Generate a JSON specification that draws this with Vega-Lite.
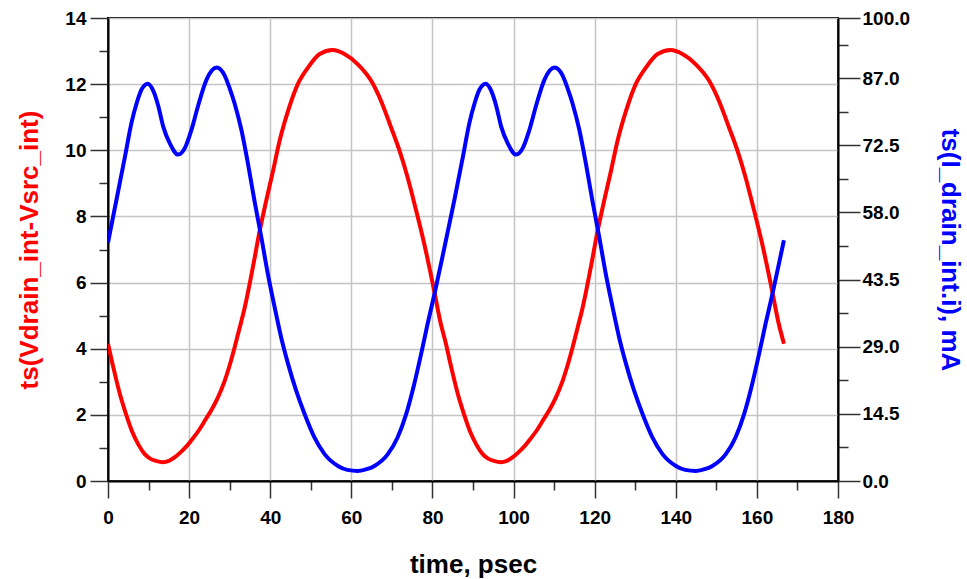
{
  "$schema": "https://vega.github.io/schema/vega-lite/v6.json",
  "width": 730,
  "height": 463,
  "autosize": {"type": "none"},
  "padding": {"left": 108, "top": 18, "right": 129, "bottom": 98},
  "background": "white",
  "config": {
    "font": "Liberation Sans",
    "view": {"stroke": "#000000", "strokeWidth": 2},
    "axis": {
      "domainColor": "#000000",
      "domainWidth": 2,
      "tickColor": "#333333",
      "tickWidth": 1.5,
      "labelFont": "Liberation Sans",
      "labelFontSize": 19,
      "labelFontWeight": "bold",
      "labelColor": "#000000",
      "labelFlush": false,
      "titleFont": "Liberation Sans",
      "titleFontSize": 26,
      "titleFontWeight": "bold",
      "gridColor": "#c4c4c4",
      "gridWidth": 1.5
    }
  },
  "datasets": {
    "vds": [
      {"t": 0, "v": 4.15}, {"t": 1, "v": 3.6}, {"t": 2, "v": 3.08}, {"t": 3, "v": 2.6}, {"t": 4.5, "v": 2.0},
      {"t": 6, "v": 1.48}, {"t": 7.5, "v": 1.1}, {"t": 9, "v": 0.82}, {"t": 10.5, "v": 0.67}, {"t": 12, "v": 0.6},
      {"t": 13.5, "v": 0.57}, {"t": 15, "v": 0.61}, {"t": 16.5, "v": 0.72}, {"t": 18, "v": 0.88}, {"t": 19.5, "v": 1.07},
      {"t": 21, "v": 1.3}, {"t": 22.5, "v": 1.55}, {"t": 24, "v": 1.85}, {"t": 25.5, "v": 2.15}, {"t": 27, "v": 2.5},
      {"t": 28.75, "v": 3.02}, {"t": 30, "v": 3.5}, {"t": 31.2, "v": 4.03}, {"t": 32.5, "v": 4.65}, {"t": 33.7, "v": 5.24},
      {"t": 35.7, "v": 6.45}, {"t": 37.4, "v": 7.56}, {"t": 39, "v": 8.47}, {"t": 40.7, "v": 9.38}, {"t": 42.3, "v": 10.28},
      {"t": 44.4, "v": 11.19}, {"t": 46.8, "v": 12.0}, {"t": 49.3, "v": 12.5}, {"t": 52.2, "v": 12.91}, {"t": 55.4, "v": 13.03},
      {"t": 58.3, "v": 12.91}, {"t": 61.6, "v": 12.6}, {"t": 64.9, "v": 12.1}, {"t": 67.3, "v": 11.5}, {"t": 69.8, "v": 10.69},
      {"t": 71.9, "v": 9.98}, {"t": 73.9, "v": 9.17}, {"t": 76, "v": 8.17}, {"t": 78, "v": 7.16}, {"t": 80.1, "v": 5.95},
      {"t": 82.1, "v": 4.73}, {"t": 83.33, "v": 4.15},
      {"t": 84.33, "v": 3.6}, {"t": 85.33, "v": 3.08}, {"t": 86.33, "v": 2.6}, {"t": 87.83, "v": 2.0},
      {"t": 89.33, "v": 1.48}, {"t": 90.83, "v": 1.1}, {"t": 92.33, "v": 0.82}, {"t": 93.83, "v": 0.67}, {"t": 95.33, "v": 0.6},
      {"t": 96.83, "v": 0.57}, {"t": 98.33, "v": 0.61}, {"t": 99.83, "v": 0.72}, {"t": 101.33, "v": 0.88}, {"t": 102.83, "v": 1.07},
      {"t": 104.33, "v": 1.3}, {"t": 105.83, "v": 1.55}, {"t": 107.33, "v": 1.85}, {"t": 108.83, "v": 2.15}, {"t": 110.33, "v": 2.5},
      {"t": 112.08, "v": 3.02}, {"t": 113.33, "v": 3.5}, {"t": 114.53, "v": 4.03}, {"t": 115.83, "v": 4.65}, {"t": 117.03, "v": 5.24},
      {"t": 119.03, "v": 6.45}, {"t": 120.73, "v": 7.56}, {"t": 122.33, "v": 8.47}, {"t": 124.03, "v": 9.38}, {"t": 125.63, "v": 10.28},
      {"t": 127.73, "v": 11.19}, {"t": 130.13, "v": 12.0}, {"t": 132.63, "v": 12.5}, {"t": 135.53, "v": 12.91}, {"t": 138.73, "v": 13.03},
      {"t": 141.63, "v": 12.91}, {"t": 144.93, "v": 12.6}, {"t": 148.23, "v": 12.1}, {"t": 150.63, "v": 11.5}, {"t": 153.13, "v": 10.69},
      {"t": 155.23, "v": 9.98}, {"t": 157.23, "v": 9.17}, {"t": 159.33, "v": 8.17}, {"t": 161.33, "v": 7.16}, {"t": 163.43, "v": 5.95},
      {"t": 165.43, "v": 4.73}, {"t": 166.67, "v": 4.15}
    ],
    "id": [
      {"t": 0, "i": 51.5}, {"t": 2.1, "i": 60.8}, {"t": 4.2, "i": 70.1}, {"t": 5.8, "i": 77.4}, {"t": 7.1, "i": 81.7},
      {"t": 8.3, "i": 84.6}, {"t": 9.8, "i": 85.8}, {"t": 11.2, "i": 84.2}, {"t": 12.4, "i": 81}, {"t": 13.6, "i": 76.6},
      {"t": 15.3, "i": 72.8}, {"t": 17.3, "i": 70.5}, {"t": 19, "i": 72}, {"t": 20.6, "i": 75.9}, {"t": 22.2, "i": 81},
      {"t": 24.3, "i": 86.7}, {"t": 26.8, "i": 89.3}, {"t": 28.75, "i": 87.6}, {"t": 30, "i": 84.8}, {"t": 31.2, "i": 81.6},
      {"t": 32.9, "i": 75.8}, {"t": 34.5, "i": 68.6}, {"t": 36.1, "i": 60.6}, {"t": 37.8, "i": 52.7}, {"t": 39.4, "i": 44.8},
      {"t": 41.1, "i": 37.5}, {"t": 42.7, "i": 31.0}, {"t": 44.4, "i": 25.3}, {"t": 46.4, "i": 19.5}, {"t": 48.5, "i": 14.4},
      {"t": 50.9, "i": 9.4}, {"t": 53.4, "i": 5.8}, {"t": 56.7, "i": 3.25}, {"t": 59, "i": 2.4}, {"t": 61.6, "i": 2.17},
      {"t": 64, "i": 2.6}, {"t": 65.7, "i": 3.25}, {"t": 69, "i": 5.8}, {"t": 71.4, "i": 9.4}, {"t": 73.5, "i": 14.4},
      {"t": 75.5, "i": 20.9}, {"t": 77.2, "i": 27.4}, {"t": 78.8, "i": 33.9}, {"t": 80.5, "i": 40.4}, {"t": 82.1, "i": 46.9},
      {"t": 83.33, "i": 52},
      {"t": 85.43, "i": 60.8}, {"t": 87.53, "i": 70.1}, {"t": 89.13, "i": 77.4}, {"t": 90.43, "i": 81.7},
      {"t": 91.63, "i": 84.6}, {"t": 93.13, "i": 85.8}, {"t": 94.53, "i": 84.2}, {"t": 95.73, "i": 81}, {"t": 96.93, "i": 76.6},
      {"t": 98.63, "i": 72.8}, {"t": 100.63, "i": 70.5}, {"t": 102.33, "i": 72}, {"t": 103.93, "i": 75.9}, {"t": 105.53, "i": 81},
      {"t": 107.63, "i": 86.7}, {"t": 110.13, "i": 89.3}, {"t": 112.08, "i": 87.6}, {"t": 113.33, "i": 84.8}, {"t": 114.53, "i": 81.6},
      {"t": 116.23, "i": 75.8}, {"t": 117.83, "i": 68.6}, {"t": 119.43, "i": 60.6}, {"t": 121.13, "i": 52.7}, {"t": 122.73, "i": 44.8},
      {"t": 124.43, "i": 37.5}, {"t": 126.03, "i": 31.0}, {"t": 127.73, "i": 25.3}, {"t": 129.73, "i": 19.5}, {"t": 131.83, "i": 14.4},
      {"t": 134.23, "i": 9.4}, {"t": 136.73, "i": 5.8}, {"t": 140.03, "i": 3.25}, {"t": 142.33, "i": 2.4}, {"t": 144.93, "i": 2.17},
      {"t": 147.33, "i": 2.6}, {"t": 149.03, "i": 3.25}, {"t": 152.33, "i": 5.8}, {"t": 154.73, "i": 9.4}, {"t": 156.83, "i": 14.4},
      {"t": 158.83, "i": 20.9}, {"t": 160.53, "i": 27.4}, {"t": 162.13, "i": 33.9}, {"t": 163.83, "i": 40.4}, {"t": 165.43, "i": 46.9},
      {"t": 166.67, "i": 52}
    ]
  },
  "layer": [
    {
      "data": {"name": "vds"},
      "mark": {"type": "line", "color": "#ff0000", "strokeWidth": 4, "interpolate": "monotone", "clip": true},
      "encoding": {
        "x": {
          "field": "t", "type": "quantitative",
          "scale": {"domain": [0, 180], "nice": false},
          "axis": {
            "title": "time, psec",
            "titleColor": "#000000",
            "titlePadding": 24,
            "values": [0, 10, 20, 30, 40, 50, 60, 70, 80, 90, 100, 110, 120, 130, 140, 150, 160, 170, 180],
            "labelExpr": "datum.value % 20 === 0 ? datum.label : ''",
            "tickSize": {"condition": {"test": "datum.value % 20 === 0", "value": 17}, "value": 9},
            "labelPadding": 10,
            "grid": true,
            "gridOpacity": {"condition": {"test": "datum.value % 20 === 0", "value": 1}, "value": 0}
          }
        },
        "y": {
          "field": "v", "type": "quantitative",
          "scale": {"domain": [0, 14], "nice": false},
          "axis": {
            "title": "ts(Vdrain_int-Vsrc_int)",
            "titleColor": "#ff0000",
            "titlePadding": 22,
            "values": [0, 1, 2, 3, 4, 5, 6, 7, 8, 9, 10, 11, 12, 13, 14],
            "labelExpr": "datum.value % 2 === 0 ? datum.label : ''",
            "tickSize": {"condition": {"test": "datum.value % 2 === 0", "value": 18}, "value": 9},
            "labelPadding": 4,
            "grid": true,
            "gridOpacity": {"condition": {"test": "datum.value % 2 === 0", "value": 1}, "value": 0}
          }
        }
      }
    },
    {
      "data": {"name": "id"},
      "mark": {"type": "line", "color": "#0000ff", "strokeWidth": 4, "interpolate": "monotone", "clip": true},
      "encoding": {
        "x": {"field": "t", "type": "quantitative"},
        "y": {
          "field": "i", "type": "quantitative",
          "scale": {"domain": [0, 100], "nice": false},
          "axis": {
            "orient": "right",
            "title": "ts(I_drain_int.i), mA",
            "titleColor": "#0000ff",
            "titlePadding": 27,
            "grid": false,
            "format": ".1f",
            "values": [0, 7.25, 14.5, 21.75, 29, 36.25, 43.5, 50.75, 58, 65.25, 72.5, 79.75, 87, 94.25, 100],
            "labelExpr": "indexof([0, 14.5, 29, 43.5, 58, 72.5, 87, 100], datum.value) >= 0 ? datum.label : ''",
            "tickSize": {"condition": {"test": "indexof([0, 14.5, 29, 43.5, 58, 72.5, 87, 100], datum.value) >= 0", "value": 22}, "value": 10},
            "labelPadding": 2
          }
        }
      }
    }
  ],
  "resolve": {"scale": {"y": "independent"}}
}
